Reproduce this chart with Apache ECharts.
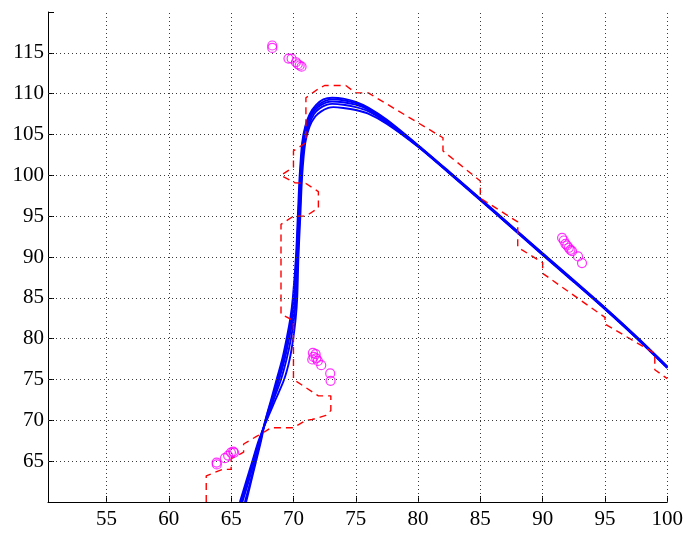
<!DOCTYPE html>
<html><head><meta charset="utf-8">
<script src="https://cdn.jsdelivr.net/npm/echarts@6/dist/echarts.min.js"></script>
<style>html,body{margin:0;padding:0;background:#fff}#c{width:686px;height:533px}</style>
</head><body><div id="c"></div><script>
const xTicks=[55,60,65,70,75,80,85,90,95,100];
const yTicks=[65,70,75,80,85,90,95,100,105,110,115];

const curve1=[[66.2,60],[66.6,62.5],[67.0,65],[67.4,67.5],[67.75,70],[68.2,72.5],[68.65,75],[69.1,77.5],[69.45,80],[69.75,82.5],[69.95,85],[70.2,90],[70.35,95],[70.5,100],[70.7,104],[70.95,106],[71.3,107.5],[71.8,108.6],[72.4,109.3],[73.1,109.5],[74,109.4],[75,109.0],[76,108.3],[77.5,106.8],[80,103.7],[82.5,100.45],[85,97.15],[87.5,93.8],[90,90.45],[92.5,87.15],[95,83.8],[97.5,80.3],[100,76.6]];
const curve2=[[66.1,60],[66.55,62.5],[66.95,65],[67.35,67.5],[67.75,70],[68.25,72.5],[68.75,75],[69.2,77.5],[69.55,80],[69.85,82.5],[70.05,85],[70.25,90],[70.4,95],[70.55,100],[70.75,104],[71.0,106],[71.4,107.5],[71.9,108.5],[72.5,109.1],[73.1,109.3],[74,109.2],[75,108.85],[76,108.2],[77.5,106.7],[80,103.65],[82.5,100.4],[85,97.1],[87.5,93.75],[90,90.4],[92.5,87.1],[95,83.75],[97.5,80.25],[100,76.55]];
const curve3=[[65.9,60],[66.4,62.5],[66.85,65],[67.3,67.5],[67.8,70],[68.35,72.5],[68.85,75],[69.3,77.5],[69.65,80],[69.95,82.5],[70.1,85],[70.3,90],[70.45,95],[70.6,100],[70.8,104],[71.1,106],[71.5,107.5],[72.0,108.4],[72.6,108.9],[73.1,109.05],[74,108.95],[75,108.65],[76,108.05],[77.5,106.6],[80,103.6],[82.5,100.35],[85,97.05],[87.5,93.7],[90,90.35],[92.5,87.05],[95,83.7],[97.5,80.2],[100,76.5]];
const curve4=[[65.8,60],[66.3,62.5],[66.75,65],[67.25,67.5],[67.8,70],[68.4,72.5],[69.0,75],[69.45,77.5],[69.8,80],[70.05,82.5],[70.2,85],[70.35,90],[70.5,95],[70.65,100],[70.85,104],[71.2,106],[71.65,107.5],[72.1,108.2],[72.7,108.65],[73.1,108.75],[74,108.65],[75,108.35],[76,107.85],[77.5,106.45],[80,103.55],[82.5,100.3],[85,97.0],[87.5,93.65],[90,90.3],[92.5,87.0],[95,83.65],[97.5,80.15],[100,76.45]];
const curve5=[[65.7,60],[66.2,62.5],[66.7,65],[67.2,67.5],[67.85,70],[68.55,72.5],[69.25,75],[69.7,77.5],[69.98,80],[70.18,82.5],[70.3,85],[70.4,90],[70.55,95],[70.7,100],[70.95,104],[71.3,106],[71.75,107.2],[72.2,107.8],[72.8,108.25],[73.2,108.35],[74,108.25],[75,108.0],[76,107.55],[77.5,106.3],[80,103.5],[82.5,100.25],[85,96.95],[87.5,93.6],[90,90.25],[92.5,86.95],[95,83.6],[97.5,80.1],[100,76.4]];

const boundary=[[63,60],[63,63.2],[64.3,64],[65,64],[65,65.3],[66,66.1],[66,67.1],[67,68],[67.8,68.7],[68.2,69.1],[70,69.1],[71,70],[71.5,70.1],[72.6,70.6],[73,71.2],[73,73],[72,73],[70,75],[70,82.2],[69,83],[69,94],[70,95],[71,95],[72,96],[72,98],[71,99],[70.1,99.1],[69,100],[70,101],[70,103],[71,104],[71,109.5],[72,110.6],[72.5,111],[74.2,111],[75,110.1],[76,110.1],[82,104.6],[82,103],[85,99.3],[85,97.2],[88,94.3],[88,91.2],[90,89.3],[90,88],[95,82.6],[95,81.8],[99,78.2],[99,76.2],[100,75.1]];

const clusterTop=[[68.3,115.9],[68.3,115.6],[69.6,114.3],[69.85,114.3],[70.2,113.85],[70.35,113.6],[70.5,113.45],[70.65,113.3]];
const clusterMid=[[71.56,78.26],[71.78,78.1],[71.62,77.77],[71.83,77.58],[71.51,77.45],[71.96,77.28],[72.23,76.76],[72.95,75.74],[72.98,74.84]];
const clusterLow=[[63.83,64.83],[63.85,64.6],[64.5,65.37],[64.76,65.68],[64.98,66.05],[65.16,66.17],[65.24,66.05]];
const clusterRight=[[91.56,92.35],[91.7,92.02],[91.83,91.61],[91.96,91.41],[92.1,91.13],[92.23,90.88],[92.36,90.71],[92.84,90.07],[93.16,89.26]];

const FONT='Liberation Serif';
const gridStyle={color:'#3a3a3a',type:[1,3],width:1};
const chart=echarts.init(document.getElementById('c'),null,{renderer:'canvas'});
const curveSeries=[curve1,curve2,curve3,curve4,curve5].map(d=>({
  type:'line',data:d,showSymbol:false,smooth:0.3,z:3,
  lineStyle:{color:'#0000FF',width:1.9},silent:true
}));
chart.setOption({
  animation:false,
  backgroundColor:'#fff',
  grid:{left:48,right:17,top:12,bottom:31},
  xAxis:{type:'value',min:50.3,max:100,minInterval:5,maxInterval:5,
    axisLine:{show:true,lineStyle:{color:'#000',width:1}},
    axisTick:{show:true,inside:true,length:6,lineStyle:{color:'#000'}},
    axisLabel:{color:'#000',fontFamily:FONT,fontSize:21,margin:7,
      formatter:v=>xTicks.includes(v)?String(v):''},
    splitLine:{show:false}},
  yAxis:{type:'value',min:60,max:120,interval:5,
    axisLine:{show:true,lineStyle:{color:'#000',width:1}},
    axisTick:{show:true,inside:true,length:6,lineStyle:{color:'#000'}},
    axisLabel:{color:'#000',fontFamily:FONT,fontSize:21,margin:4,
      formatter:v=>yTicks.includes(v)?String(v):''},
    splitLine:{show:false}},
  series:[
    {type:'line',data:[],silent:true,z:1,
     markLine:{silent:true,symbol:['none','none'],label:{show:false},animation:false,
       lineStyle:gridStyle,emphasis:{disabled:true},
       data:xTicks.map(v=>({xAxis:v})).concat(yTicks.map(v=>({yAxis:v})))}},
    ...curveSeries,
    {type:'line',data:boundary,showSymbol:false,z:4,silent:true,
     lineStyle:{color:'#FF0000',width:1.4,type:[7,5]}},
    {type:'scatter',data:[].concat(clusterTop,clusterMid,clusterLow,clusterRight),z:5,silent:true,
     symbol:'circle',symbolSize:9,
     itemStyle:{color:'rgba(0,0,0,0)',borderColor:'#FF00FF',borderWidth:1.2}}
  ]
});
</script></body></html>
